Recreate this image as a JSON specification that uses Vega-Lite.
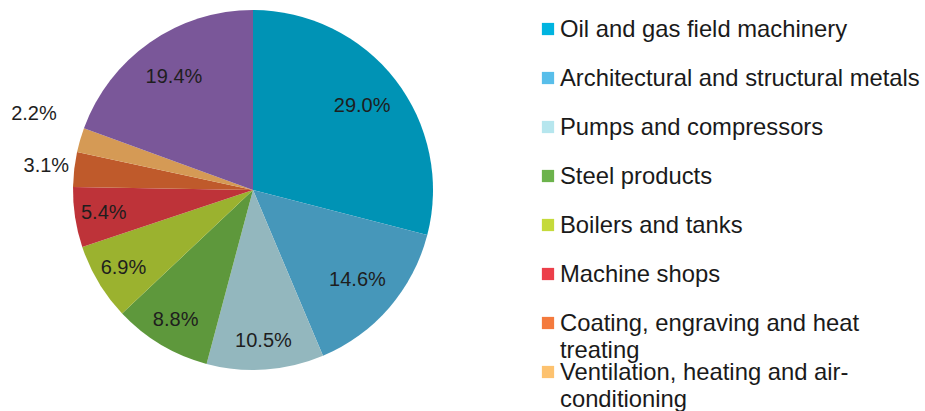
{
  "$schema": "https://vega.github.io/schema/vega-lite/v6.json",
  "padding": 0,
  "background": "white",
  "config": {"view": {"stroke": null}, "font": "Liberation Sans"},
  "datasets": {
    "shares": [
      {"category": "Oil and gas field machinery", "order": 1, "share": 0.290},
      {"category": "Architectural and structural metals", "order": 2, "share": 0.146},
      {"category": "Pumps and compressors", "order": 3, "share": 0.105},
      {"category": "Steel products", "order": 4, "share": 0.088},
      {"category": "Boilers and tanks", "order": 5, "share": 0.069},
      {"category": "Machine shops", "order": 6, "share": 0.054},
      {"category": "Coating, engraving and  heat\ntreating", "order": 7, "share": 0.031},
      {"category": "Ventilation, heating and air-\nconditioning", "order": 8, "share": 0.022},
      {"category": "Other", "order": 9, "share": 0.194}
    ]
  },
  "resolve": {"scale": {"color": "independent"}},
  "spacing": 35,
  "hconcat": [
    {
      "width": 506,
      "height": 380,
      "data": {"name": "shares"},
      "encoding": {
        "theta": {"field": "share", "type": "quantitative", "stack": true},
        "order": {"field": "order", "type": "quantitative"}
      },
      "layer": [
        {
          "mark": {"type": "arc", "outerRadius": 180, "strokeWidth": 0},
          "encoding": {
            "color": {
              "field": "category",
              "type": "nominal",
              "legend": null,
              "scale": {
                "domain": ["Oil and gas field machinery", "Architectural and structural metals", "Pumps and compressors", "Steel products", "Boilers and tanks", "Machine shops", "Coating, engraving and  heat\ntreating", "Ventilation, heating and air-\nconditioning", "Other"],
                "range": ["#0093B5", "#4697BA", "#93B7BE", "#5E983C", "#9BB22F", "#BE3339", "#BF5A2B", "#D59A55", "#7A5799"]
              }
            }
          }
        },
        {
          "mark": {"type": "text", "clip": true, "radius": 138, "fontSize": 20, "color": "#1e1e1e", "align": "center", "baseline": "middle"},
          "encoding": {
            "text": {"condition": {"test": "datum.share < 0.14", "value": ""}, "field": "share", "type": "quantitative", "format": ".1%"}
          }
        },
        {
          "mark": {"type": "text", "clip": true, "radius": 151, "fontSize": 20, "color": "#1e1e1e", "align": "center", "baseline": "middle"},
          "encoding": {
            "text": {"condition": {"test": "datum.share < 0.04 || datum.share > 0.14", "value": ""}, "field": "share", "type": "quantitative", "format": ".1%"}
          }
        },
        {
          "mark": {"type": "text", "clip": true, "radius": 208, "fontSize": 20, "color": "#1e1e1e", "align": "center", "baseline": "middle"},
          "encoding": {
            "text": {"condition": {"test": "datum.share < 0.025 || datum.share > 0.04", "value": ""}, "field": "share", "type": "quantitative", "format": ".1%"}
          }
        },
        {
          "mark": {"type": "text", "clip": true, "radius": 228, "dy": -13, "fontSize": 20, "color": "#1e1e1e", "align": "center", "baseline": "middle"},
          "encoding": {
            "text": {"condition": {"test": "datum.share > 0.025", "value": ""}, "field": "share", "type": "quantitative", "format": ".1%"}
          }
        }
      ]
    },
    {
      "width": 384,
      "height": 411,
      "data": {"name": "shares"},
      "transform": [{"filter": "datum.order <= 8"}],
      "encoding": {
        "x": {"datum": 0, "type": "quantitative", "scale": {"domain": [0, 1]}, "axis": null},
        "y": {"field": "order", "type": "quantitative", "scale": {"domain": [0.408, 8.796], "reverse": true, "nice": false, "zero": false}, "axis": null}
      },
      "layer": [
        {
          "mark": {"type": "point", "shape": "square", "filled": true, "size": 150, "opacity": 1, "xOffset": 6},
          "encoding": {
            "color": {
              "field": "category",
              "type": "nominal",
              "legend": null,
              "scale": {
                "domain": ["Oil and gas field machinery", "Architectural and structural metals", "Pumps and compressors", "Steel products", "Boilers and tanks", "Machine shops", "Coating, engraving and  heat\ntreating", "Ventilation, heating and air-\nconditioning"],
                "range": ["#00B4E0", "#58BEEA", "#B6E6EE", "#6CB34C", "#C5DA3B", "#EC3F4A", "#F47A3D", "#FDC26F"]
              }
            }
          }
        },
        {
          "mark": {"type": "text", "align": "left", "baseline": "alphabetic", "dx": 18, "dy": 8, "fontSize": 23.8, "lineHeight": 27, "lineBreak": "\n", "color": "#1a1a1a"},
          "encoding": {
            "text": {"field": "category", "type": "nominal"}
          }
        }
      ]
    }
  ]
}
